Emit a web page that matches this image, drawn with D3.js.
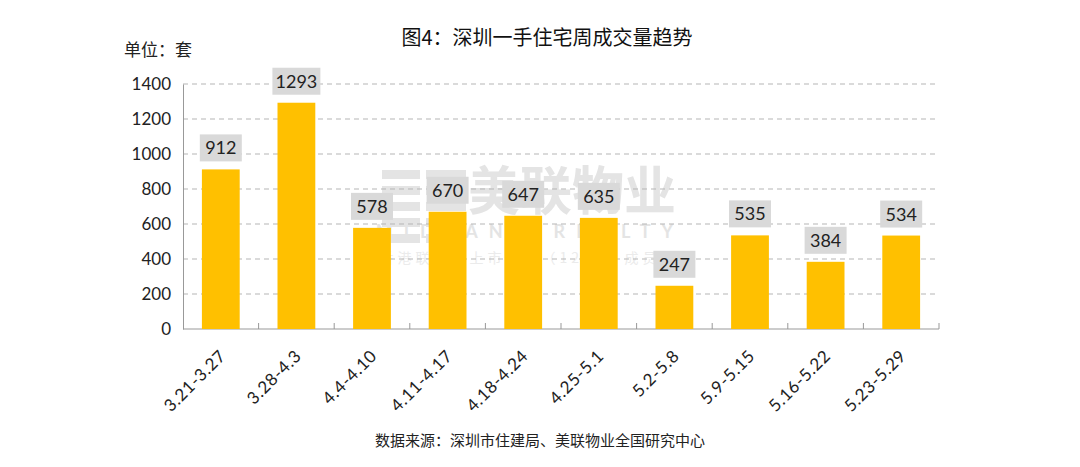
<!DOCTYPE html>
<html><head><meta charset="utf-8">
<script src="https://cdn.jsdelivr.net/npm/d3@7"></script>
<style>
body{margin:0;background:#fff;}
svg{display:block;}
</style></head>
<body><svg id="c" width="1080" height="467"></svg>
<script>
const categories = ["3.21-3.27","3.28-4.3","4.4-4.10","4.11-4.17","4.18-4.24","4.25-5.1","5.2-5.8","5.9-5.15","5.16-5.22","5.23-5.29"];
const values = [912,1293,578,670,647,635,247,535,384,534];
const yTicks = [0,200,400,600,800,1000,1200,1400];
const title = "图4：深圳一手住宅周成交量趋势";
const unitLabel = "单位：套";
const source = "数据来源：深圳市住建局、美联物业全国研究中心";

(function(){
const svg = d3.select("#c");
const numFont = "'Lato','DejaVu Sans',sans-serif";
const cjkFont = "'Noto Sans CJK SC','Noto Sans',sans-serif";
const pL = 183, pR = 939, pT = 84, pB = 329;

const x = d3.scaleBand().domain(categories).range([pL, pR]).paddingInner(0.5).paddingOuter(0.25);
const y = d3.scaleLinear().domain([0,1400]).range([pB, pT]);

// watermark (faint, behind)
const wm = svg.append("g");
const wmc = "#e4e4e4";
[0,1,2,3,4].forEach(i=>{
  wm.append("rect").attr("x",382).attr("y",170+i*16).attr("width",38).attr("height",9).attr("fill",wmc);
  wm.append("rect").attr("x",426).attr("y",170+i*16).attr("width",40).attr("height",9).attr("fill",wmc);
});
wm.append("text").attr("x",572).attr("y",210).attr("text-anchor","middle")
  .attr("font-family",cjkFont).attr("font-weight","bold").attr("font-size",52).attr("fill",wmc).text("美联物业");
wm.append("text").attr("x",530).attr("y",238).attr("text-anchor","middle")
  .attr("font-family",numFont).attr("font-weight","bold").attr("font-size",18).attr("letter-spacing",11).attr("fill",wmc).text("MIDLAND REALTY");
wm.append("text").attr("x",520).attr("y",263).attr("text-anchor","middle")
  .attr("font-family",cjkFont).attr("font-size",14).attr("letter-spacing",4).attr("fill","#ebebeb").text("香港联交所上市公司（1200）成员");

// gridlines
svg.append("g").selectAll("line").data(yTicks.filter(d=>d>0)).join("line")
  .attr("x1",pL).attr("x2",pR).attr("y1",d=>y(d)).attr("y2",d=>y(d))
  .attr("stroke","#b5b5b5").attr("stroke-width",1).attr("stroke-dasharray","5,4");

// y axis
const ya = svg.append("g").attr("transform",`translate(${pL},0)`)
  .call(d3.axisLeft(y).tickValues(yTicks).tickFormat(d3.format("d")).tickSize(0).tickPadding(12));
ya.select(".domain").attr("stroke","#999");
ya.selectAll("text").attr("font-family",numFont).attr("font-size",17).attr("fill","#222");

// x axis
const xa = svg.append("g").attr("transform",`translate(0,${pB})`);
xa.append("line").attr("x1",pL).attr("x2",pR).attr("stroke","#999");
const bounds = categories.slice(1).map(c => x(c) - x.step()*x.paddingInner()/2).concat([pR]);
xa.selectAll("line.tk").data(bounds).join("line").attr("class","tk")
  .attr("x1",d=>d).attr("x2",d=>d).attr("y1",0).attr("y2",-6).attr("stroke","#999");
xa.selectAll("text").data(categories).join("text")
  .attr("transform",d=>`translate(${x(d)+x.bandwidth()/2+6},${28}) rotate(-45)`)
  .attr("text-anchor","end").attr("font-family",numFont).attr("font-size",17).attr("letter-spacing",0.6).attr("fill","#222")
  .text(d=>d);

// bars
svg.append("g").selectAll("rect").data(values).join("rect")
  .attr("x",(d,i)=>x(categories[i])).attr("width",x.bandwidth())
  .attr("y",d=>y(d)).attr("height",d=>pB-y(d)).attr("fill","#FFC000");

// labels
const lg = svg.append("g").selectAll("g").data(values).join("g")
  .attr("transform",(d,i)=>`translate(${x(categories[i])+x.bandwidth()/2},${y(d)-8})`);
lg.append("rect").attr("x",d=>String(d).length>3?-24:-21).attr("width",d=>String(d).length>3?48:42)
  .attr("y",-27).attr("height",27).attr("fill","#d9d9d9");
lg.append("text").attr("text-anchor","middle").attr("y",-7).attr("font-family",numFont)
  .attr("font-size",18).attr("fill","#222").text(d=>d);

// title etc
svg.append("text").attr("x",547).attr("y",45).attr("text-anchor","middle").attr("font-family",cjkFont)
  .attr("font-size",20).attr("font-weight",400).attr("fill","#111").text(title);
svg.append("text").attr("x",124).attr("y",56).attr("font-family",cjkFont)
  .attr("font-size",17).attr("fill","#222").text(unitLabel);
svg.append("text").attr("x",540).attr("y",446).attr("text-anchor","middle").attr("font-family",cjkFont)
  .attr("font-size",15).attr("fill","#222").text(source);
})();
</script></body></html>
